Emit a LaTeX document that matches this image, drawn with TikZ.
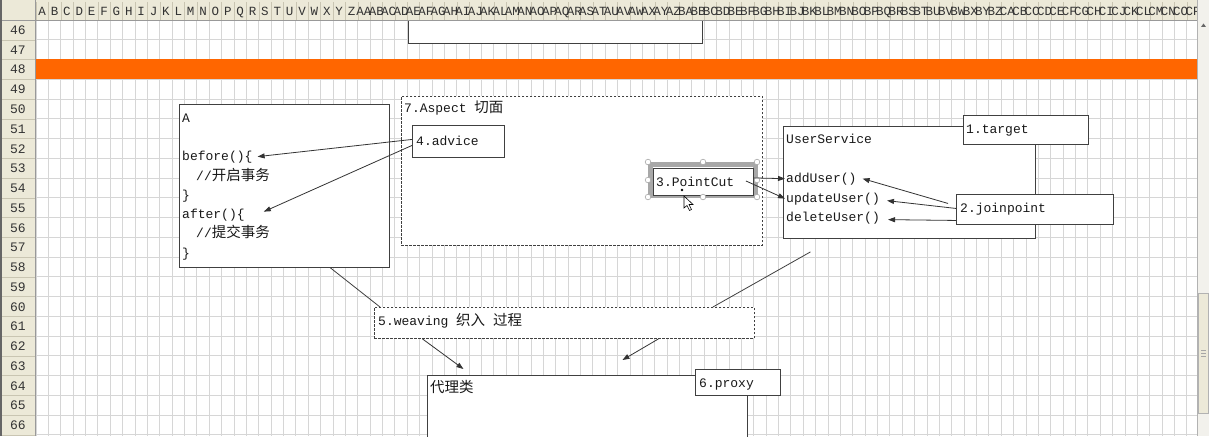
\documentclass[tikz,border=0pt]{standalone}
\usepackage{fontspec}
\setmainfont{Liberation Mono}
\newfontfamily\cjk{Noto Sans CJK SC}
\usetikzlibrary{arrows.meta}

\definecolor{hdrbg}{HTML}{ECE9D8}
\definecolor{hdrline}{HTML}{C9C5B2}
\definecolor{gridgray}{HTML}{D6D6D6}
\definecolor{excelorange}{HTML}{FF6600}
\definecolor{selgray}{HTML}{A8A8A8}
\definecolor{scrollbg}{HTML}{F2F1EC}

\newcommand\codefont{\fontsize{13}{15}\selectfont}
\newcommand\hdrfont{\fontsize{12.5}{13}\selectfont}
\newcommand\zhtext[1]{{\cjk\fontsize{14.5}{15}\selectfont #1}}

\tikzset{
  cell/.style={draw=gridgray, line width=0.8pt},
  objbox/.style={draw=black!75, fill=white, line width=0.9pt, inner sep=0pt, anchor=north west},
  dashbox/.style={objbox, dash pattern=on 2.5pt off 1.5pt},
  code/.style={anchor=base west, inner sep=0pt, text=black!90, font=\codefont},
  hdr/.style={inner sep=0pt, text=black!80, font=\hdrfont},
  arr/.style={draw=black!80, line width=0.8pt, -{Triangle[length=7pt,width=5pt]}},
  link/.style={draw=black!75, line width=0.8pt},
  handle/.style={draw=gray!70, fill=white, line width=0.6pt}
}

\begin{document}
\begin{tikzpicture}[x=1pt,y=-1pt]
\clip (0,0) rectangle (1209,436);
\fill[white] (0,0) rectangle (1209,436);
\def\cw{12.375}
\def\rh{19.75}
% sheet grid
\foreach \i in {0,...,93} \draw[cell] (36+\cw*\i,20) -- (36+\cw*\i,436);
\foreach \i in {0,...,21} \draw[cell] (36,20+\rh*\i) -- (1197,20+\rh*\i);
\fill[excelorange] (36,59.5) rectangle (1197,79.25);
% box from the rows above
\node[objbox, minimum width=294pt, minimum height=40pt, anchor=south west] (oldbox) at (408,44) {};

% headers
\fill[hdrbg] (0,0) rectangle (1197,20);
\fill[hdrbg] (0,20) rectangle (35.5,436);
\foreach \i in {0,...,93} \draw[hdrline] (36+\cw*\i,2) -- (36+\cw*\i,20);
\foreach \i in {1,...,21} \draw[hdrline] (0,20+\rh*\i) -- (35.5,20+\rh*\i);
\draw[black!40] (0,20) -- (1197,20);
\draw[black!40] (35.5,0) -- (35.5,436);
\draw[black!60, line width=1.5pt] (0.75,0) -- (0.75,436);
\foreach [count=\i from 0] \c in {A,...,Z}
  \node[hdr, anchor=base] (col\c) at (36+\cw*\i+\cw/2,16) {\c};
\foreach [count=\j from 1] \p in {A,B,C} {
  \foreach [count=\i from 0] \c in {A,...,Z} {
    \pgfmathtruncatemacro\k{26*\j+\i}
    \ifnum\k<94
      \node[hdr, anchor=base] (col\p\c) at (36+\cw*\k+\cw/2,16) {\p\c};
    \fi
  }
}
\foreach [count=\i from 0] \r in {46,...,66}
  \node[hdr, anchor=base, font=\fontsize{13}{13}\selectfont] (row\r) at (18,20+\rh*\i+14.5) {\r};

% scroll bar
\fill[scrollbg] (1197,0) rectangle (1209,436);
\draw[gray!60] (1197.5,0) -- (1197.5,436);
\draw[gray!60, fill=hdrbg] (1198.5,293) rectangle (1208.5,413);
\foreach \y in {350,353,356} \draw[gray!70] (1201,\y) -- (1206,\y);
\fill[black!60] (1201,27) -- (1206,27) -- (1203.5,23.5) -- cycle;

% class A
\node[objbox, minimum width=210pt, minimum height=163pt] (classA) at (179,104) {};
\node[code] (nameA) at (182,122) {A};
\node[code] (before) at (182,160) {before()\{};
\node[code] (openTx) at (196,180) {//\zhtext{开启事务}};
\node[code] (endBefore) at (182,199) {\}};
\node[code] (after) at (182,218) {after()\{};
\node[code] (commitTx) at (196,237) {//\zhtext{提交事务}};
\node[code] (endAfter) at (182,257) {\}};

% aspect
\node[dashbox, minimum width=361pt, minimum height=149pt] (aspect) at (401,96) {};
\node[code] (aspectLbl) at (404,112) {7.Aspect \zhtext{切面}};
\node[objbox, minimum width=92pt, minimum height=32pt] (advice) at (412,125) {};
\node[code] (adviceLbl) at (416,145) {4.advice};

% pointcut, selected
\draw[selgray, line width=5pt] (650.5,164.5) rectangle (755,195.5);
\node[objbox, minimum width=100pt, minimum height=27pt] (pointcut) at (653,168) {};
\node[code] (pointcutLbl) at (656,186) {3.PointCut};
\foreach \p in {(648,162),(703,162),(757,162),(648,180),(757,180),(648,197),(703,197),(757,197)}
  \draw[handle] \p circle (2.8);
\fill[black] (682,190) circle (1.4);
\draw[black, fill=white, line width=0.6pt] (684,196) -- (684,208) -- (687,205.5) -- (689.5,210.5)
  -- (691.5,209.5) -- (689,204.5) -- (693,204.5) -- cycle;

% target class
\node[objbox, minimum width=252pt, minimum height=112pt] (userSvc) at (783,126) {};
\node[code] (userSvcLbl) at (786,143) {UserService};
\node[code] (addUser) at (786,182) {addUser()};
\node[code] (updateUser) at (786,202) {updateUser()};
\node[code] (deleteUser) at (786,221) {deleteUser()};
\node[objbox, minimum width=125pt, minimum height=29pt] (target) at (963,115) {};
\node[code] (targetLbl) at (966,133) {1.target};
\node[objbox, minimum width=157pt, minimum height=30pt] (joinpoint) at (956,194) {};
\node[code] (joinpointLbl) at (960,212) {2.joinpoint};

% weaving and proxy
\node[dashbox, minimum width=380pt, minimum height=31pt] (weaving) at (374,307) {};
\node[code] (weavingLbl) at (378,325) {5.weaving \zhtext{织入} \zhtext{过程}};
\node[objbox, minimum width=320pt, minimum height=80pt] (proxyCls) at (427,375) {};
\node[code] (proxyClsLbl) at (430,392) {\zhtext{代理类}};
\node[objbox, minimum width=85pt, minimum height=26pt] (proxy) at (695,369) {};
\node[code] (proxyLbl) at (699,387) {6.proxy};

% connectors
\draw[arr] ([yshift=2pt]advice.west) -- ([xshift=5pt]before.east);
\draw[arr] ([yshift=-4pt]advice.west) -- ([xshift=19pt,yshift=3pt]after.east);
\draw[arr] ([yshift=4pt]pointcut.east) -- ([xshift=-1pt]addUser.west);
\draw[arr] ([xshift=-8pt,yshift=1pt]pointcut.east) -- ([xshift=-1pt]updateUser.west);
\draw[arr] ([xshift=-8pt,yshift=6pt]joinpoint.west) -- ([xshift=6pt]addUser.east);
\draw[arr] ([yshift=1pt]joinpoint.west) -- ([xshift=7pt,yshift=-2pt]updateUser.east);
\draw[arr] ([yshift=-11pt]joinpoint.west) -- ([xshift=8pt,yshift=-2pt]deleteUser.east);
\draw[link] ([xshift=46pt]classA.south) -- ([xshift=6pt]weaving.north west);
\draw[link] ([xshift=-99pt,yshift=-13pt]userSvc.south) -- ([xshift=-42pt]weaving.north east);
\draw[arr] ([xshift=-142pt]weaving.south) -- ([xshift=-124pt,yshift=6pt]proxyCls.north);
\draw[arr] ([xshift=94pt]weaving.south) -- ([xshift=35pt,yshift=15pt]proxyCls.north);
\end{tikzpicture}
\end{document}
